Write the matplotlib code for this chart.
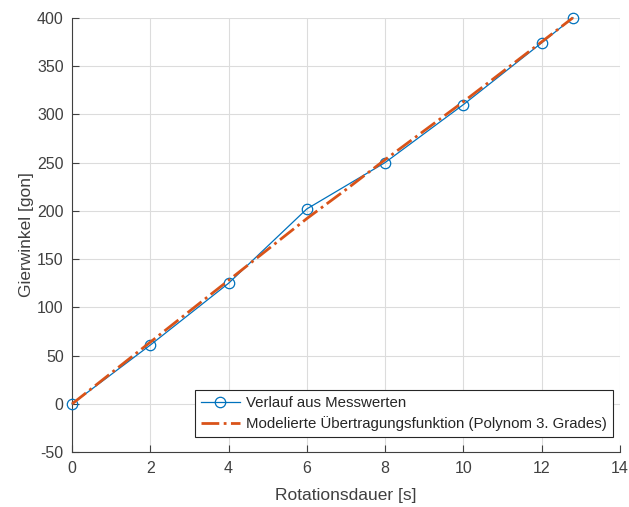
import matplotlib.pyplot as plt

plt.rcParams['font.family'] = ['Liberation Sans', 'DejaVu Sans']
plt.rcParams['axes.unicode_minus'] = False

# measured values
zeit = [0, 2, 4, 6, 8, 10, 12, 12.8]
winkel = [0, 61, 125, 202, 250, 310, 374, 400]

# modelled transfer function (cubic polynomial)
modell_zeit = [0, 1, 2, 3, 4, 5, 6, 7, 8, 9, 10, 11, 12, 12.8]
modell_winkel = [0, 32, 64, 96, 128, 160, 192, 222, 253, 283, 313, 344, 375, 400]

blau = '#0072BD'
orange = '#D95319'
achse = '#404040'

fig = plt.figure(figsize=(6.29, 5.07), dpi=100)
ax = fig.add_axes([0.1145, 0.108, 0.871, 0.857])

ax.plot(zeit, winkel, color=blau, lw=0.9, marker='o', ms=7.5, mfc='none',
        mec=blau, mew=0.9, label='Verlauf aus Messwerten', zorder=3,
        clip_on=False)
ax.plot(modell_zeit, modell_winkel, color=orange, lw=2, ls='-.',
        label='Modelierte Übertragungsfunktion (Polynom 3. Grades)', zorder=4,
        clip_on=False)

ax.set_xlim(0, 14)
ax.set_ylim(-50, 400)
ax.set_xticks(range(0, 15, 2))
ax.set_yticks(range(-50, 401, 50))

ax.grid(True, color='#dcdcdc', lw=0.8)
ax.set_axisbelow(True)
for s in ['top', 'right']:
    ax.spines[s].set_visible(False)
for s in ['left', 'bottom']:
    ax.spines[s].set_color(achse)
    ax.spines[s].set_linewidth(0.8)
ax.tick_params(direction='in', length=5, width=0.8, colors=achse,
               labelsize=11.5, labelcolor=achse, pad=6)

ax.set_xlabel('Rotationsdauer [s]', fontsize=12.5, color=achse, labelpad=9)
ax.set_ylabel('Gierwinkel [gon]', fontsize=12.5, color=achse, labelpad=2)

leg = ax.legend(loc='lower right', bbox_to_anchor=(0.987, 0.035), fontsize=10.8,
                frameon=True, fancybox=False, edgecolor='#262626', framealpha=1,
                handlelength=2.6, borderpad=0.4, labelspacing=0.42,
                handletextpad=0.4, borderaxespad=0)
leg.get_frame().set_linewidth(0.8)
for t in leg.get_texts():
    t.set_color('#262626')

fig.savefig('out.png', dpi=100)
